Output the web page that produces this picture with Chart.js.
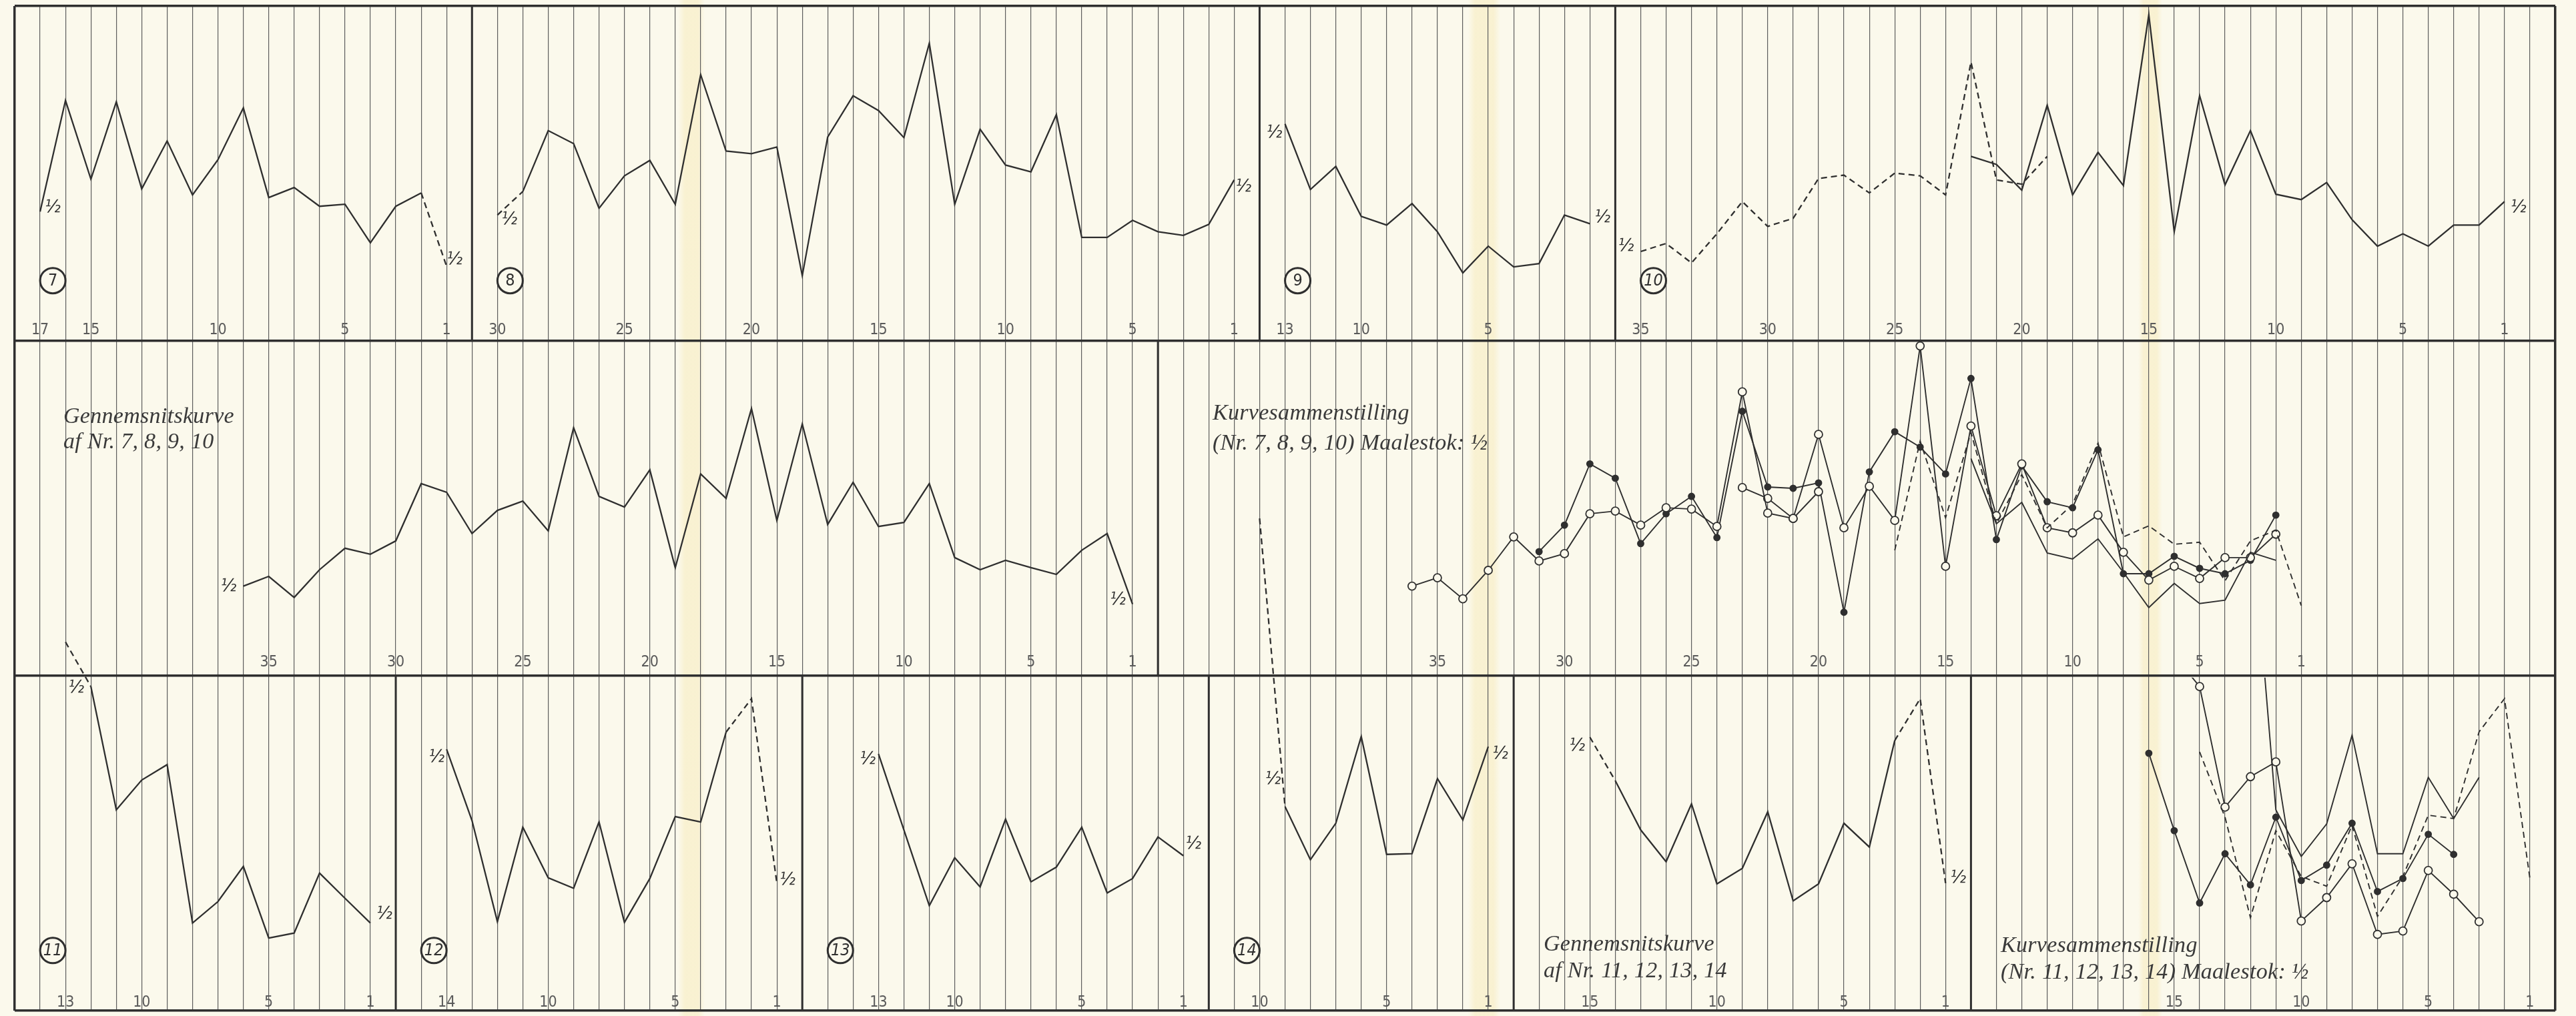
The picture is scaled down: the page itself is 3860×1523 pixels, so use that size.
<!DOCTYPE html>
<html>
<head>
<meta charset="utf-8">
<title>Gennemsnitskurver og Kurvesammenstilling</title>
<script src="https://cdn.jsdelivr.net/npm/chart.js@4.4.1/dist/chart.umd.min.js"></script>
<style>
    html, body { margin: 0; padding: 0; }
    body {
        width: 3860px;
        height: 1523px;
        overflow: hidden;
        position: relative;
        background-color: #fbf9ec;
        background-image: linear-gradient(90deg,
            transparent 1016px, rgba(246, 232, 178, .45) 1026px, rgba(246, 232, 178, .45) 1046px, transparent 1056px,
            transparent 2200px, rgba(246, 232, 178, .45) 2210px, rgba(246, 232, 178, .45) 2238px, transparent 2248px,
            transparent 3204px, rgba(246, 232, 178, .45) 3212px, rgba(246, 232, 178, .45) 3232px, transparent 3240px);
    }
    #sheet { position: absolute; left: 0; top: 0; }
    .title {
        position: absolute;
        font: italic 34px/40px "Liberation Serif", "DejaVu Serif", serif;
        color: #3a3a3a;
        white-space: nowrap;
        letter-spacing: 0.3px;
    }
</style>
</head>
<body>
<canvas id="sheet" width="3860" height="1523"></canvas>
<div class="title" style="left:95px; top:604px; line-height:38px">Gennemsnitskurve<br>af Nr. 7, 8, 9, 10</div>
<div class="title" style="left:1817px; top:595px; line-height:45px">Kurvesammenstilling<br>(Nr. 7, 8, 9, 10) Maalestok: ½</div>
<div class="title" style="left:2313px; top:1394px">Gennemsnitskurve<br>af Nr. 11, 12, 13, 14</div>
<div class="title" style="left:2998px; top:1396px">Kurvesammenstilling<br>(Nr. 11, 12, 13, 14) Maalestok: ½</div>

<script>
// ========================================
// DATA - each row is 0..100 high, days counted backwards
// ========================================

// 1. TOP ROW: curves 7, 8, 9, 10
const days7 = [17, 16, 15, 14, 13, 12, 11, 10, 9, 8, 7, 6, 5, 4, 3, 2, 1];
const kurve7 = [38.6, 71.8, 48.3, 71.4, 45.4, 59.7, 43.6, 54.1, 69.6, 42.8, 45.8, 40.2, 40.8, 29.3, 40.2, 44.2, 22.3];

const days8 = [30, 29, 28, 27, 26, 25, 24, 23, 22, 21, 20, 19, 18, 17, 16, 15, 14, 13, 12, 11, 10, 9, 8, 7, 6, 5, 4, 3, 2, 1];
const kurve8 = [37.6, 44.6, 62.8, 58.9, 39.6, 49.3, 53.9, 40.8, 79.5, 56.7, 55.9, 57.9, 19.5, 60.9, 73.2, 68.8, 60.7, 88.9, 40.8, 63.2, 52.5, 50.5, 67.6, 30.9, 30.9, 36.0, 32.6, 31.5, 34.8, 48.1];

const days9 = [13, 12, 11, 10, 9, 8, 7, 6, 5, 4, 3, 2, 1];
const kurve9 = [64.8, 45.2, 52.1, 37.2, 34.6, 41.0, 32.6, 20.3, 28.3, 22.1, 23.1, 37.6, 35.0];

const days10a = [35, 34, 33, 32, 31, 30, 29, 28, 27, 26, 25, 24, 23, 22, 21, 20, 19];
const kurve10a = [26.7, 29.1, 23.3, 32.0, 41.6, 34.2, 36.6, 48.5, 49.5, 44.2, 50.1, 49.3, 43.6, 83.3, 48.1, 46.8, 55.1];
const days10b = [22, 21, 20, 19, 18, 17, 16, 15, 14, 13, 12, 11, 10, 9, 8, 7, 6, 5, 4, 3, 2, 1];
const kurve10b = [55.1, 52.7, 45.0, 70.4, 43.6, 56.3, 46.4, 97.4, 32.6, 73.2, 46.6, 62.8, 43.8, 42.2, 47.3, 36.2, 28.3, 32.0, 28.3, 34.6, 34.6, 41.6];

// 2. MIDDLE ROW: average of 7-10 and the overlay at scale 1/2
const daysMid = [36, 35, 34, 33, 32, 31, 30, 29, 28, 27, 26, 25, 24, 23, 22, 21, 20, 19, 18, 17, 16, 15, 14, 13, 12, 11, 10, 9, 8, 7, 6, 5, 4, 3, 2, 1];
const snit7to10 = [26.8, 29.7, 23.4, 31.7, 38.1, 36.3, 40.3, 57.4, 54.8, 42.5, 49.4, 52.2, 43.3, 74.1, 53.6, 50.4, 61.5, 32.3, 60.3, 53.0, 79.8, 46.4, 75.2, 45.2, 57.8, 44.6, 45.8, 57.4, 35.3, 31.7, 34.5, 32.3, 30.3, 37.5, 42.5, 21.4];

const daysOpenA = [36, 35, 34, 33, 32, 31, 30, 29, 28, 27, 26, 25, 24, 23, 22, 21, 20];
const openA = [26.8, 29.3, 23.0, 31.5, 41.5, 34.3, 36.5, 48.4, 49.2, 45.0, 50.2, 49.8, 44.6, 84.8, 48.6, 47.0, 55.0];
const daysOpenB = [23, 22, 21, 20, 19, 18, 17, 16, 15, 14, 13, 12, 11, 10, 9, 8, 7, 6, 5, 4, 3, 2];
const openB = [56.2, 53.0, 47.0, 72.1, 44.2, 56.6, 46.4, 98.5, 32.7, 74.6, 47.8, 63.3, 44.2, 42.7, 48.0, 36.9, 28.6, 32.7, 29.1, 35.3, 35.3, 42.3];
const daysDots = [31, 30, 29, 28, 27, 26, 25, 24, 23, 22, 21, 20, 19, 18, 17, 16, 15, 14, 13, 12, 11, 10, 9, 8, 7, 6, 5, 4, 3, 2];
const dots = [37.1, 45.0, 63.3, 59.0, 39.5, 48.4, 53.6, 41.3, 79.0, 56.4, 56.0, 57.6, 19.0, 60.9, 72.9, 68.3, 60.3, 88.8, 40.7, 62.7, 52.0, 50.2, 67.5, 30.5, 30.5, 35.7, 32.1, 30.5, 34.5, 48.0];
const daysPlain = [14, 13, 12, 11, 10, 9, 8, 7, 6, 5, 4, 3, 2];
const plain = [64.9, 45.4, 51.8, 36.7, 34.9, 40.9, 30.9, 20.4, 27.6, 21.6, 22.6, 36.9, 34.5];
const daysDash = [17, 16, 15, 14, 13, 12, 11, 10, 9, 8, 7, 6, 5, 4, 3, 2, 1];
const dashed = [37.5, 70.1, 47.2, 72.7, 45.4, 60.1, 44.2, 51.2, 69.5, 41.5, 44.8, 39.3, 39.9, 28.4, 40.3, 43.5, 21.0];

// 3. BOTTOM ROW: curves 11-14, their average and overlay
const days11 = [13, 12, 11, 10, 9, 8, 7, 6, 5, 4, 3, 2, 1];
const kurve11 = [110.1, 96.8, 60.0, 68.9, 73.5, 26.2, 32.6, 43.1, 21.7, 23.2, 41.1, 33.6, 26.2];
const days12 = [14, 13, 12, 11, 10, 9, 8, 7, 6, 5, 4, 3, 2, 1];
const kurve12 = [78.1, 56.8, 26.6, 54.8, 39.7, 36.6, 56.4, 26.4, 39.5, 58.0, 56.4, 83.2, 93.2, 38.1];
const days13 = [13, 12, 11, 10, 9, 8, 7, 6, 5, 4, 3, 2, 1];
const kurve13 = [76.7, 54.0, 31.4, 45.7, 37.0, 57.2, 38.5, 42.9, 54.8, 35.2, 39.5, 51.9, 46.3];
const days14 = [10, 9, 8, 7, 6, 5, 4, 3, 2, 1];
const kurve14 = [147.0, 61.0, 45.1, 56.0, 81.9, 46.7, 46.9, 69.3, 57.0, 78.9];
const days15 = [15, 14, 13, 12, 11, 10, 9, 8, 7, 6, 5, 4, 3, 2, 1];
const snit11to14 = [81.7, 68.7, 54.0, 44.5, 61.8, 37.9, 42.5, 59.4, 32.8, 37.9, 56.0, 48.9, 80.7, 93.2, 38.1];

const daysDots2 = [16, 15, 14, 13, 12, 11, 10, 9, 8, 7, 6, 5, 4];
const dots2 = [76.9, 53.8, 32.2, 46.9, 37.6, 57.8, 38.9, 43.5, 56.0, 35.6, 39.5, 52.7, 46.7];
const daysOpen2 = [15, 14, 13, 12, 11, 10, 9, 8, 7, 6, 5, 4, 3];
const open2 = [106.1, 96.8, 60.8, 69.9, 74.3, 26.8, 33.8, 43.9, 22.8, 23.8, 41.9, 34.8, 26.6];
const daysPlain2 = [12, 11, 10, 9, 8, 7, 6, 5, 4, 3];
const plain2 = [151.6, 60.0, 46.1, 55.8, 82.3, 46.9, 46.9, 69.7, 57.4, 69.7];
const daysDash2 = [14, 13, 12, 11, 10, 9, 8, 7, 6, 5, 4, 3, 2, 1];
const dashed2 = [77.3, 57.8, 27.8, 53.8, 40.1, 37.2, 55.4, 28.2, 40.1, 58.4, 57.4, 83.3, 93.2, 39.5];

// tick labels written under each panel
const ticks7 = [17, 15, 10, 5, 1];
const ticks8 = [30, 25, 20, 15, 10, 5, 1];
const ticks9 = [13, 10, 5];
const ticks10 = [35, 30, 25, 20, 15, 10, 5, 1];
const ticksMid = [35, 30, 25, 20, 15, 10, 5, 1];
const ticksComp = [35, 30, 25, 20, 15, 10, 5, 1];
const ticks11 = [13, 10, 5, 1];
const ticks12 = [14, 10, 5, 1];
const ticks13 = [13, 10, 5, 1];
const ticks14 = [10, 5, 1];
const ticks15 = [15, 10, 5, 1];
const ticks16 = [15, 10, 5, 1];

// ========================================
// SHEET LAYOUT (100 grid columns, 3 rows)
// ========================================
const INK = '#2f2f2f';
const PAPER = '#fbf9ec';
const GRID = '#5e5e5e';
const DASH = [9, 6];
const ROW_PX = 1510 / 3;

function rowBase(row) { return (2 - row) * 100; }

// column of day d in a panel = base - d
const panelTicks = [
    [[18, ticks7], [49, ticks8], [63, ticks9], [99, ticks10]],
    [[45, ticksMid], [91, ticksComp]],
    [[15, ticks11], [31, ticks12], [47, ticks13], [59, ticks14], [77, ticks15], [100, ticks16]]
];
const dividers = [[18, 49, 63], [45], [15, 31, 47, 59, 77]];
const curveNumbers = [[7, 0, 0], [8, 18, 0], [9, 49, 0], [10, 63, 0], [11, 0, 2], [12, 15, 2], [13, 31, 2], [14, 47, 2]];

function curve(days, vals, base, row, extra) {
    const o = extra || {};
    const dashFrom = o.dashFrom || [];
    delete o.dashFrom;
    return Object.assign({
        data: days.map((d, i) => ({ x: base - d, y: rowBase(row) + vals[i] })),
        borderColor: INK,
        borderWidth: 2.3,
        pointRadius: 0,
        tension: 0,
        xAxisID: 'x',
        yAxisID: 'y',
        segment: {
            borderDash: ctx => dashFrom.includes(days[ctx.p0DataIndex]) ? DASH : undefined
        }
    }, o);
}

const openStyle = { borderWidth: 1.9, pointRadius: 6, pointBackgroundColor: PAPER, pointBorderColor: INK, pointBorderWidth: 1.8 };
const dotStyle = { borderWidth: 1.9, pointRadius: 4.5, pointBackgroundColor: INK, pointBorderColor: INK };
const rowThreeClip = { left: false, right: false, bottom: false, top: -2 * ROW_PX };

const datasets = [];

dividers.forEach((cols, row) => cols.forEach(k => datasets.push({
    data: [{ x: k, y: rowBase(row) }, { x: k, y: rowBase(row) + 100 }],
    borderColor: INK, borderWidth: 3, pointRadius: 0, xAxisID: 'x', yAxisID: 'y'
})));

datasets.push(
    curve(days7, kurve7, 18, 0, { dashFrom: [2], halves: [[0, 19, -6], [-1, 12, -10]] }),
    curve(days8, kurve8, 49, 0, { dashFrom: [30], halves: [[0, 18, 7], [-1, 14, 10]] }),
    curve(days9, kurve9, 63, 0, { halves: [[0, -16, 13], [-1, 19, -9]] }),
    curve(days10a, kurve10a, 99, 0, { borderDash: DASH, halves: [[0, -22, -8]] }),
    curve(days10b, kurve10b, 99, 0, { halves: [[-1, 21, 9]] }),

    curve(daysMid, snit7to10, 45, 1, { halves: [[0, -22, 0], [-1, -22, -7]] }),
    curve(daysDash, dashed, 91, 1, { borderWidth: 1.9, borderDash: DASH }),
    curve(daysPlain, plain, 91, 1, { borderWidth: 1.9 }),
    curve(daysOpenA, openA, 91, 1, Object.assign({}, openStyle)),
    curve(daysOpenB, openB, 91, 1, Object.assign({}, openStyle)),
    curve(daysDots, dots, 91, 1, Object.assign({}, dotStyle)),

    curve(days11, kurve11, 15, 2, { dashFrom: [13], halves: [[1, -22, 2], [-1, 21, -14]] }),
    curve(days12, kurve12, 31, 2, { dashFrom: [3, 2], halves: [[0, -15, 12], [-1, 16, -5]] }),
    curve(days13, kurve13, 47, 2, { halves: [[0, -16, 8], [-1, 15, -18]] }),
    curve(days14, kurve14, 59, 2, { dashFrom: [10], halves: [[1, -18, -41], [-1, 18, 11]] }),
    curve(days15, snit11to14, 77, 2, { dashFrom: [15, 3, 2], halves: [[0, -19, 13], [-1, 19, -8]] }),
    curve(daysDash2, dashed2, 100, 2, { borderWidth: 1.9, borderDash: DASH, clip: rowThreeClip }),
    curve(daysPlain2, plain2, 100, 2, { borderWidth: 1.9, clip: rowThreeClip }),
    curve(daysOpen2, open2, 100, 2, Object.assign({ clip: rowThreeClip }, openStyle)),
    curve(daysDots2, dots2, 100, 2, Object.assign({ clip: rowThreeClip }, dotStyle))
);

// one label axis per row, pinned just above that row's lower edge
function labelAxis(row, padding) {
    const marks = new Map();
    panelTicks[row].forEach(([base, list]) => list.forEach(d => marks.set(base - d, String(d))));
    return {
        type: 'linear',
        axis: 'x',
        min: 0,
        max: 100,
        position: { y: rowBase(row) },
        afterBuildTicks: ax => { ax.ticks = [...marks.keys()].map(v => ({ value: v })); },
        grid: { display: false, drawTicks: false },
        border: { display: false },
        ticks: {
            autoSkip: false,
            maxRotation: 0,
            minRotation: 0,
            padding: padding,
            color: '#5a5a5a',
            font: { family: '"DejaVu Sans Condensed", "Liberation Sans Narrow", sans-serif', size: 23 },
            callback: v => marks.get(v) || ''
        }
    };
}

// circled curve numbers and the "½" scale marks at curve ends
const sheetNotes = {
    id: 'sheetNotes',
    afterDatasetsDraw(chart) {
        const { ctx } = chart;
        const xs = chart.scales.x;
        const ys = chart.scales.y;
        ctx.save();
        ctx.fillStyle = INK;
        ctx.strokeStyle = INK;
        ctx.textAlign = 'center';
        ctx.textBaseline = 'middle';

        curveNumbers.forEach(([num, start, row]) => {
            const cx = xs.getPixelForValue(start + 1.5);
            const cy = ys.getPixelForValue(rowBase(row) + 18);
            ctx.lineWidth = 3;
            ctx.beginPath();
            ctx.arc(cx, cy, 19, 0, Math.PI * 2);
            ctx.stroke();
            ctx.font = (num > 9 ? 'italic ' : '') + '25px "Liberation Sans Narrow", "DejaVu Sans Condensed", sans-serif';
            ctx.fillText(String(num), cx, cy + 1);
        });

        ctx.font = 'italic 27px "DejaVu Sans Condensed", sans-serif';
        chart.data.datasets.forEach((ds, i) => {
            if (!ds.halves) return;
            const pts = chart.getDatasetMeta(i).data;
            ds.halves.forEach(([idx, dx, dy]) => {
                const p = pts[idx < 0 ? pts.length + idx : idx];
                ctx.fillText('½', p.x + dx, p.y + dy);
            });
        });
        ctx.restore();
    }
};

const columns = Array.from({ length: 101 }, (_, k) => k);

new Chart(document.getElementById('sheet'), {
    type: 'line',
    data: { datasets: datasets },
    options: {
        responsive: false,
        animation: false,
        devicePixelRatio: 1,
        events: [],
        layout: { padding: { left: 22, right: 31, top: 9, bottom: 4 } },
        plugins: {
            legend: { display: false },
            tooltip: { enabled: false }
        },
        scales: {
            x: {
                type: 'linear',
                min: 0,
                max: 100,
                position: 'bottom',
                afterBuildTicks: ax => { ax.ticks = columns.map(v => ({ value: v })); },
                ticks: { display: false },
                grid: {
                    drawTicks: false,
                    color: c => (c.tick.value % 100 === 0 ? INK : GRID),
                    lineWidth: c => (c.tick.value % 100 === 0 ? 3.5 : 1.2)
                },
                border: { display: false }
            },
            y: {
                type: 'linear',
                min: 0,
                max: 300,
                afterBuildTicks: ax => { ax.ticks = [0, 100, 200, 300].map(v => ({ value: v })); },
                ticks: { display: false },
                grid: { drawTicks: false, color: INK, lineWidth: 3.5 },
                border: { display: false }
            },
            x1: labelAxis(0, -30),
            x2: labelAxis(1, -34),
            x3: labelAxis(2, -26)
        }
    },
    plugins: [sheetNotes]
});
</script>
</body>
</html>
